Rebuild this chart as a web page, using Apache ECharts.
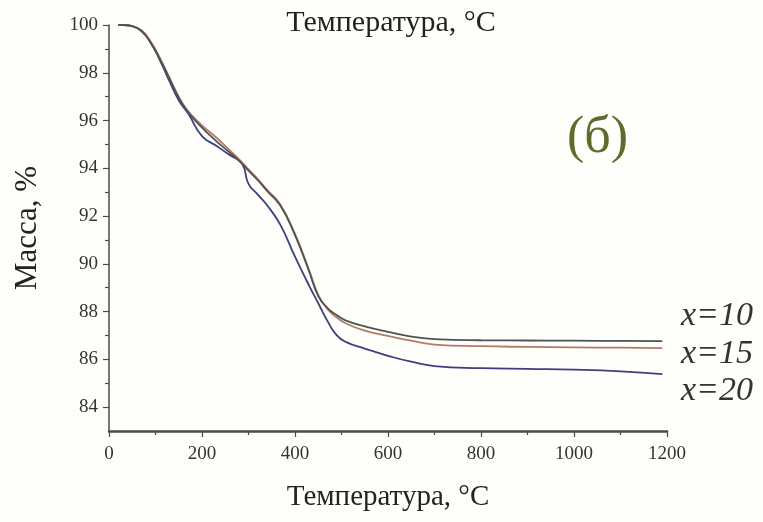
<!DOCTYPE html>
<html>
<head>
<meta charset="utf-8">
<script src="https://cdn.jsdelivr.net/npm/echarts@6/dist/echarts.min.js"></script>
<style>
  html, body { margin: 0; padding: 0; background: #fefefa; }
  #main { width: 763px; height: 522px; }
</style>
</head>
<body>
<div id="main"></div>
<script>
// температура, °C (общая для всех кривых)
const temps = [20, 30, 50, 70, 90, 110, 130, 150, 170, 200, 230, 260, 286, 300, 320, 340, 368, 400, 430, 450, 470, 490, 510, 550, 600, 650, 700, 800, 900, 1000, 1100, 1190];
// масса, % для x=10
const mass10 = [100, 100, 99.95, 99.75, 99.25, 98.55, 97.75, 96.95, 96.35, 95.7, 95.15, 94.65, 94.2, 93.9, 93.5, 93.05, 92.45, 91.2, 89.7, 88.65, 88.15, 87.85, 87.62, 87.38, 87.15, 86.95, 86.85, 86.8, 86.79, 86.78, 86.77, 86.76];
// x=15
const mass15 = [100, 100, 99.95, 99.78, 99.3, 98.6, 97.8, 97.0, 96.4, 95.8, 95.3, 94.75, 94.25, 93.95, 93.55, 93.1, 92.5, 91.25, 89.75, 88.7, 88.1, 87.75, 87.5, 87.2, 86.98, 86.78, 86.62, 86.55, 86.52, 86.5, 86.49, 86.47];
// x=20
const mass20 = [100, 100, 99.95, 99.75, 99.25, 98.5, 97.65, 96.85, 96.3, 95.35, 94.95, 94.55, 94.2, 93.35, 92.9, 92.45, 91.65, 90.3, 89.1, 88.35, 87.6, 87.0, 86.72, 86.45, 86.15, 85.9, 85.72, 85.63, 85.6, 85.57, 85.5, 85.38];

// подписи осей
const yTicks = [84, 86, 88, 90, 92, 94, 96, 98, 100];
const yMinor = [85, 87, 89, 91, 93, 95, 97, 99];

const pairs = (ys) => temps.map((t, i) => [t, ys[i]]);

const font = "Liberation Serif";
const chart = echarts.init(document.getElementById("main"));

const lineSeries = (name, data, color) => ({
  name: name,
  type: "line",
  data: pairs(data),
  showSymbol: false,
  smooth: 0.5,
  lineStyle: { color: color, width: 1.8 },
  itemStyle: { color: color },
  z: 3
});

const option = {
  backgroundColor: "#fefefa",
  animation: false,
  title: {
    text: "Температура, °С",
    left: 386,
    textAlign: "center",
    top: 3,
    textStyle: { fontFamily: font, fontSize: 30, fontWeight: "normal", color: "#222" }
  },
  grid: { left: 109, right: 96, top: 25, bottom: 91, containLabel: false },
  xAxis: {
    type: "value",
    min: 0,
    max: 1200,
    interval: 200,
    name: "Температура, °С",
    nameLocation: "middle",
    nameGap: 52,
    nameTextStyle: { fontFamily: font, fontSize: 29, color: "#222" },
    axisLine: { lineStyle: { color: "#4a4a4a", width: 2.5 } },
    axisTick: { length: 6, lineStyle: { color: "#4a4a4a", width: 1.2 } },
    minorTick: { show: true, splitNumber: 2, length: 4, lineStyle: { color: "#4a4a4a", width: 1.2 } },
    axisLabel: { fontFamily: font, fontSize: 19, color: "#333", margin: 14, formatter: (v) => String(v) },
    splitLine: { show: false }
  },
  yAxis: [
    {
      type: "value",
      min: 83,
      max: 100,
      name: "Масса, %",
      nameLocation: "middle",
      nameGap: 66,
      nameTextStyle: { fontFamily: font, fontSize: 31, color: "#222" },
      axisLine: { show: true, lineStyle: { color: "#4a4a4a", width: 1.5 } },
      axisTick: { customValues: yTicks, length: 6, lineStyle: { color: "#4a4a4a", width: 1.2 } },
      axisLabel: { customValues: yTicks, fontFamily: font, fontSize: 19, color: "#333", margin: 11 },
      splitLine: { show: false }
    },
    {
      type: "value",
      min: 83,
      max: 100,
      position: "left",
      axisLine: { show: false },
      axisTick: { show: true, customValues: yMinor, length: 4, lineStyle: { color: "#4a4a4a", width: 1.2 } },
      axisLabel: { show: false },
      splitLine: { show: false }
    }
  ],
  series: [
    lineSeries("x=20", mass20, "#3d3f80"),
    lineSeries("x=15", mass15, "#b5796c"),
    lineSeries("x=10", mass10, "#4d5452")
  ],
  graphic: [
    {
      type: "text",
      left: 567,
      top: 112,
      style: { text: "(б)", font: "52px " + font, fill: "#606a2c" }
    },
    {
      type: "text",
      left: 681,
      top: 299,
      style: { text: "x=10", font: "italic 34px " + font, fill: "#333" }
    },
    {
      type: "text",
      left: 681,
      top: 337,
      style: { text: "x=15", font: "italic 34px " + font, fill: "#333" }
    },
    {
      type: "text",
      left: 681,
      top: 374,
      style: { text: "x=20", font: "italic 34px " + font, fill: "#333" }
    }
  ]
};

chart.setOption(option);
</script>
</body>
</html>
